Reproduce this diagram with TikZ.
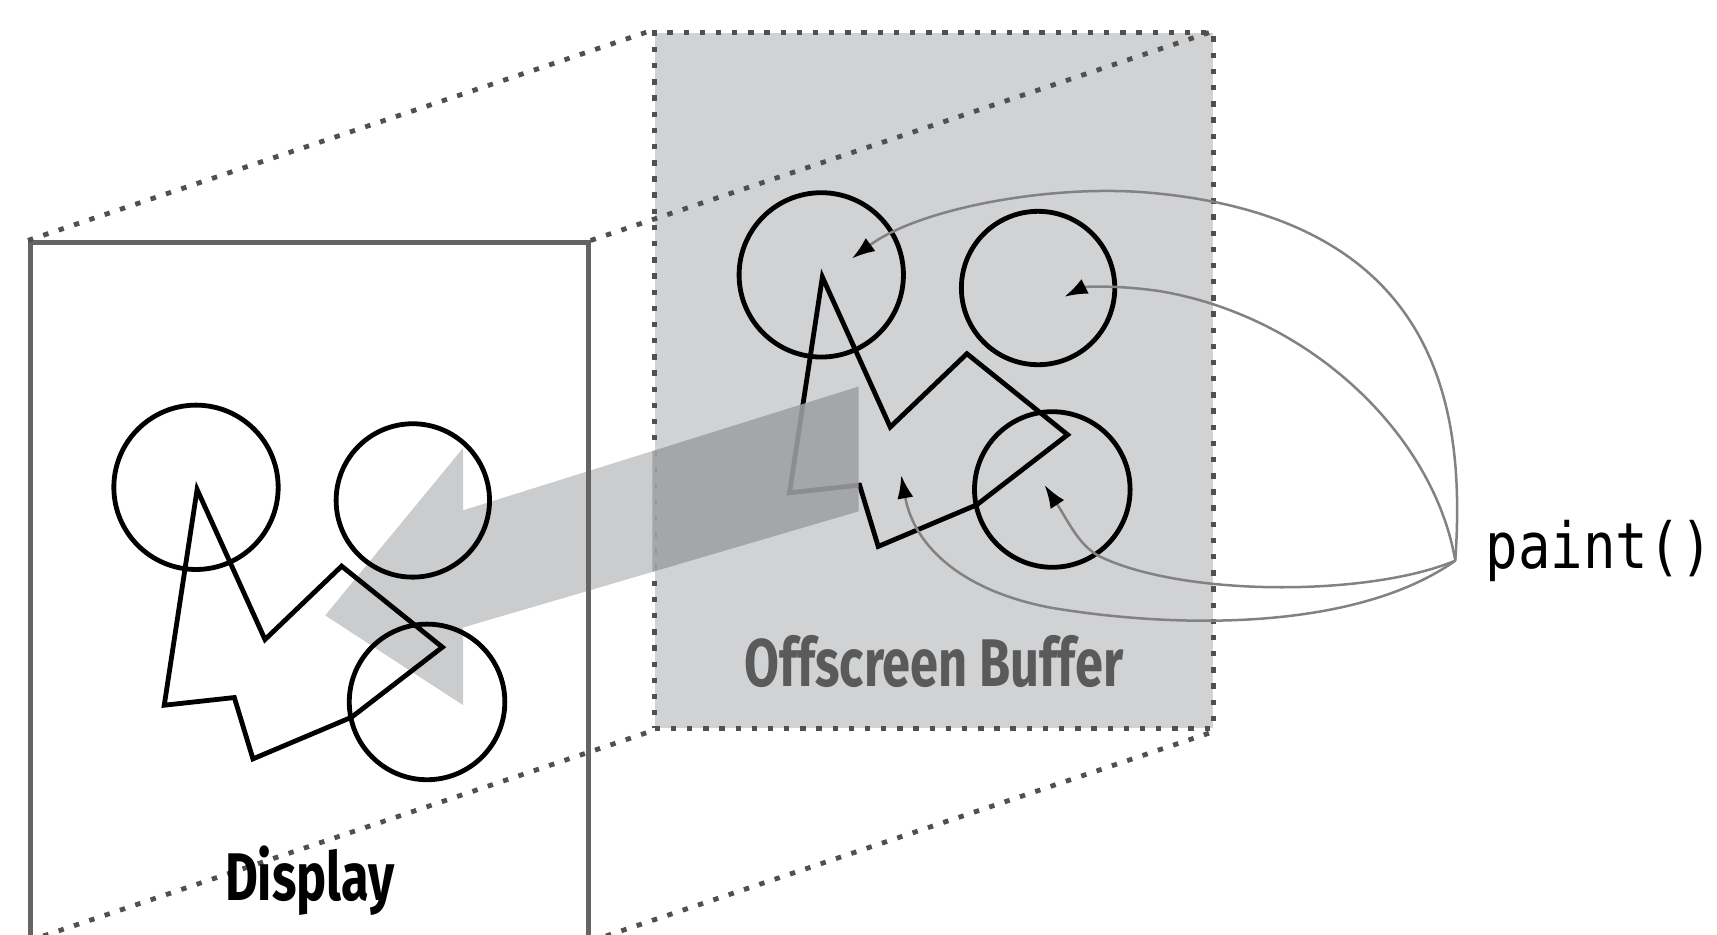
\documentclass[tikz,border=0pt]{standalone}
\usepackage{fontspec}
\usepackage{tikz}
\usetikzlibrary{arrows.meta, calc}

\newfontfamily\captionfont[FakeStretch=0.75]{Fira Sans}
\newfontfamily\codefont[FakeStretch=0.85]{DejaVu Sans Mono}

\definecolor{bufgray}{RGB}{209,210,212}
\definecolor{dotgray}{RGB}{80,80,80}
\definecolor{framegray}{RGB}{100,100,100}
\definecolor{wiregray}{RGB}{130,130,130}
\definecolor{flowlight}{RGB}{203,204,206}
\definecolor{flowdark}{RGB}{160,161,163}
\definecolor{textgray}{RGB}{90,90,90}

\begin{document}
\begin{tikzpicture}[
    x=0.01cm, y=-0.01cm,
    ring/.style={circle, draw=black, line width=1.25pt, inner sep=0pt, minimum size=#1},
    zigzag/.style={draw=black, line width=1.25pt},
    screen/.style={rectangle, draw=framegray, line width=1.3pt, minimum width=5.09cm, minimum height=6.35cm, inner sep=0pt},
    bufbox/.style={rectangle, fill=bufgray, draw=dotgray, line width=1.25pt, dash pattern=on 1.4pt off 2.8pt, minimum width=5.1cm, minimum height=6.35cm, inner sep=0pt},
    persp/.style={draw=dotgray, line width=1.25pt, dash pattern=on 1.4pt off 2.8pt},
    feed/.style={draw=wiregray, line width=0.65pt, -{Latex[length=6pt, width=4.2pt, color=black]}},
    title/.style={font=\captionfont\bfseries\fontsize{17.5}{20}\selectfont, inner sep=0pt, anchor=base},
    scene/.pic={
        % circles
        \node[ring=1.50cm] (-c1) at (750,251) {};
        \node[ring=1.40cm] (-c2) at (948,263) {};
        \node[ring=1.42cm] (-c3) at (961,447) {};
        % polygon
        \draw[zigzag] (751,253) -- (813,390) -- (883,323) -- (975,397) -- (892,461) -- (802,499) -- (785,443) -- (721,450) -- cycle;
        \coordinate (-inside) at (823,434);
    }
]
\useasboundingbox (0,0) rectangle (1568,853);

% Offscreen buffer
\node[bufbox] (buffer) at (853,347.5) {};
\pic (buf) at (0,0) {scene};

% Copy arrow
\begin{scope}
    \clip (0,0) rectangle (598,853);
    \fill[flowlight] (784,353) -- (423,466) -- (423,409) -- (297,562) -- (423,644) -- (423,573) -- (784,467) -- cycle;
\end{scope}
\begin{scope}
    \clip (buffer.north west) rectangle (buffer.south east);
    \fill[flowdark, opacity=0.88] (784,353) -- (423,466) -- (423,409) -- (297,562) -- (423,644) -- (423,573) -- (784,467) -- cycle;
\end{scope}

% Display
\pic (dsp) at (-571,194) {scene};
\node[screen] (display) at (282.5,539.5) {};

% Perspective lines
\draw[persp] (display.north west) -- (buffer.north west);
\draw[persp] (display.north east) -- (buffer.north east);
\draw[persp] (display.south west) -- (buffer.south west);
\draw[persp] (display.south east) -- (buffer.south east);

% paint() calls
\node[font=\codefont\fontsize{16.5}{18}\selectfont, anchor=base west, inner sep=0pt] (paint) at (1356,519) {paint()};
\coordinate (hub) at (1329,512);

\draw[feed] (hub) .. controls (1338,380) and (1320,200) .. (1050,176) .. controls (960,168) and (840,190) .. ([shift={(28,-15)}]buf-c1.center);
\draw[feed] (hub) .. controls (1310,400) and (1200,290) .. (1060,266) .. controls (1020,260) and (990,262) .. ([shift={(24,8)}]buf-c2.center);
\draw[feed] (hub) .. controls (1250,545) and (1080,545) .. (1004,508) .. controls (985,498) and (975,475) .. ([shift={(-7,-4)}]buf-c3.center);
\draw[feed] (hub) .. controls (1240,575) and (1080,575) .. (960,555) .. controls (880,540) and (835,500) .. (buf-inside);

% Labels
\node[title] (displaylabel) at (283,822) {Display};
\node[title, text=textgray] (bufferlabel) at (853,627) {Offscreen Buffer};

\end{tikzpicture}
\end{document}
